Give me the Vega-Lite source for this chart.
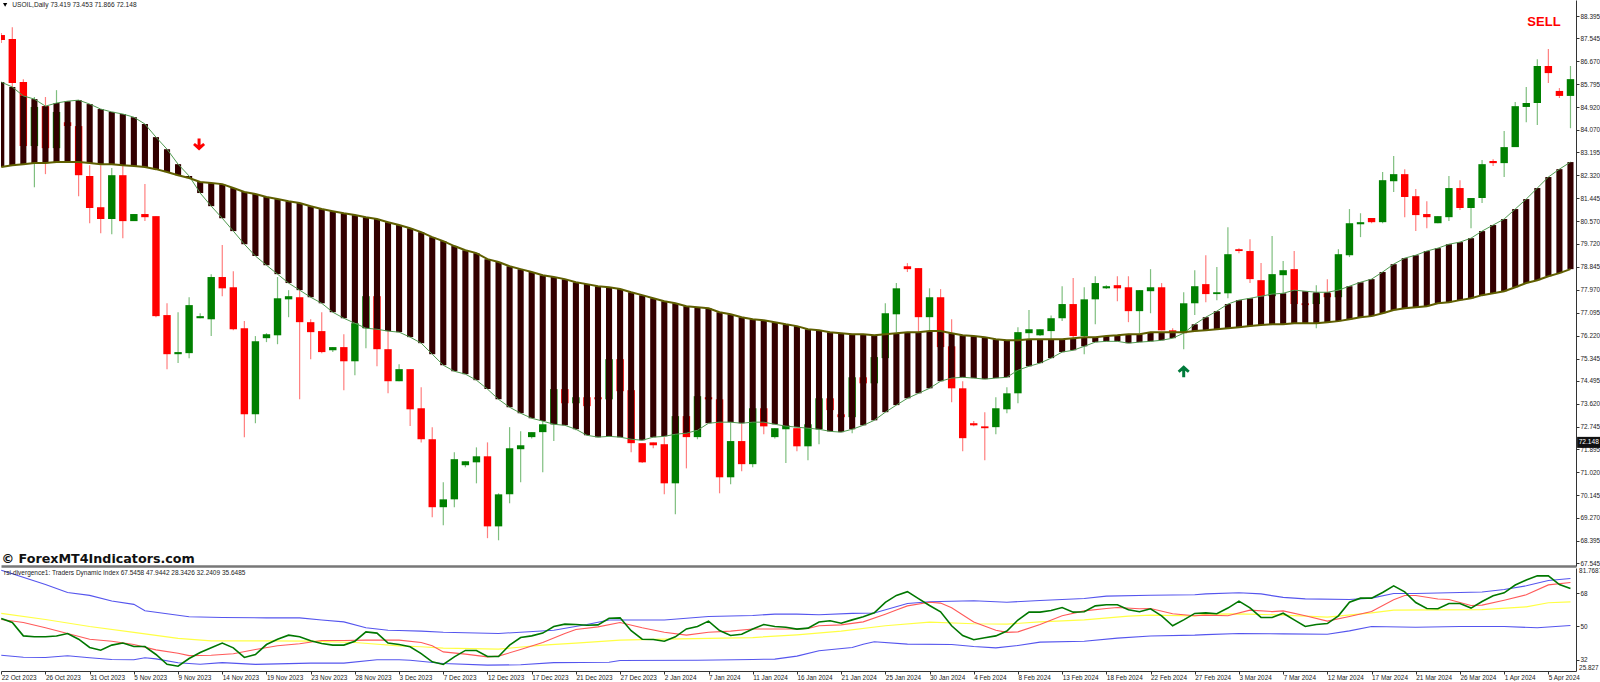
{"$schema":"https://vega.github.io/schema/vega-lite/v6.json","padding":0,"autosize":{"type":"pad"},"background":"white","spacing":1,"config":{"view":{"stroke":null},"axis":{"labelFont":"Liberation Sans","labelFontSize":6.4,"labelColor":"#222"},"text":{"font":"Liberation Sans"}},
"datasets":{
"bars":[
{"i":0,"t":"d","o":87.67,"h":87.75,"l":87.37,"c":87.48,"a":85.88,"b":82.64},
{"i":1,"t":"d","o":87.52,"h":87.97,"l":85.69,"c":85.84,"a":85.69,"b":82.71},
{"i":2,"t":"d","o":85.88,"h":85.99,"l":83.44,"c":83.44,"a":85.35,"b":82.75},
{"i":3,"t":"u","o":83.44,"h":85.31,"l":81.87,"c":84.93,"a":85.23,"b":82.79},
{"i":4,"t":"d","o":84.96,"h":85.31,"l":82.37,"c":83.36,"a":84.96,"b":82.79},
{"i":5,"t":"u","o":83.36,"h":85.57,"l":83.29,"c":84.74,"a":85.08,"b":82.83},
{"i":6,"t":"d","o":84.35,"h":84.43,"l":84.16,"c":84.2,"a":85.15,"b":82.83},
{"i":7,"t":"d","o":84.2,"h":84.24,"l":81.53,"c":82.33,"a":85.19,"b":82.83},
{"i":8,"t":"d","o":82.3,"h":82.71,"l":80.5,"c":81.08,"a":85.04,"b":82.79},
{"i":9,"t":"d","o":81.11,"h":82.71,"l":80.12,"c":80.66,"a":84.85,"b":82.75},
{"i":10,"t":"u","o":80.66,"h":82.6,"l":80.08,"c":82.33,"a":84.74,"b":82.75},
{"i":11,"t":"d","o":82.33,"h":82.68,"l":79.93,"c":80.58,"a":84.66,"b":82.71},
{"i":12,"t":"u","o":80.58,"h":80.85,"l":80.58,"c":80.85,"a":84.54,"b":82.68},
{"i":13,"t":"d","o":80.85,"h":81.99,"l":80.58,"c":80.73,"a":84.28,"b":82.64},
{"i":14,"t":"d","o":80.77,"h":80.77,"l":76.92,"c":76.96,"a":83.78,"b":82.56},
{"i":15,"t":"d","o":77,"h":77.45,"l":74.94,"c":75.51,"a":83.32,"b":82.45},
{"i":16,"t":"u","o":75.51,"h":77.11,"l":75.17,"c":75.59,"a":82.75,"b":82.33},
{"i":17,"t":"u","o":75.55,"h":77.68,"l":75.36,"c":77.38,"a":82.3,"b":82.22},
{"i":18,"t":"u","o":76.88,"h":77.07,"l":76.88,"c":76.96,"a":81.65,"b":82.07},
{"i":19,"t":"u","o":76.84,"h":78.56,"l":76.2,"c":78.45,"a":81.15,"b":82.03},
{"i":20,"t":"d","o":78.45,"h":79.67,"l":77.72,"c":78.02,"a":80.69,"b":81.99},
{"i":21,"t":"d","o":78.06,"h":78.67,"l":76.42,"c":76.46,"a":80.2,"b":81.84},
{"i":22,"t":"d","o":76.5,"h":76.77,"l":72.35,"c":73.22,"a":79.7,"b":81.69},
{"i":23,"t":"u","o":73.22,"h":76.2,"l":72.88,"c":76,"a":79.25,"b":81.61},
{"i":24,"t":"u","o":76.12,"h":76.31,"l":75.97,"c":76.27,"a":78.9,"b":81.5},
{"i":25,"t":"u","o":76.23,"h":78.45,"l":75.89,"c":77.64,"a":78.56,"b":81.42},
{"i":26,"t":"u","o":77.6,"h":77.95,"l":76.92,"c":77.72,"a":78.22,"b":81.34},
{"i":27,"t":"d","o":77.68,"h":77.95,"l":73.79,"c":76.73,"a":77.95,"b":81.27},
{"i":28,"t":"d","o":76.73,"h":76.84,"l":75.32,"c":76.35,"a":77.68,"b":81.15},
{"i":29,"t":"d","o":76.39,"h":77.11,"l":75.55,"c":75.59,"a":77.45,"b":81.04},
{"i":30,"t":"u","o":75.66,"h":75.78,"l":75.59,"c":75.78,"a":77.11,"b":80.96},
{"i":31,"t":"d","o":75.78,"h":76.27,"l":74.14,"c":75.24,"a":76.88,"b":80.88},
{"i":32,"t":"u","o":75.24,"h":76.8,"l":74.71,"c":76.69,"a":76.69,"b":80.81},
{"i":33,"t":"u","o":76.5,"h":77.72,"l":75.74,"c":77.72,"a":76.5,"b":80.73},
{"i":34,"t":"d","o":77.72,"h":77.72,"l":75.05,"c":75.7,"a":76.46,"b":80.66},
{"i":35,"t":"d","o":75.7,"h":76.42,"l":74.02,"c":74.48,"a":76.39,"b":80.54},
{"i":36,"t":"u","o":74.48,"h":75.13,"l":74.48,"c":74.94,"a":76.35,"b":80.43},
{"i":37,"t":"d","o":74.94,"h":74.94,"l":72.77,"c":73.41,"a":76.16,"b":80.31},
{"i":38,"t":"d","o":73.45,"h":74.25,"l":72.15,"c":72.27,"a":75.93,"b":80.16},
{"i":39,"t":"d","o":72.27,"h":72.73,"l":69.3,"c":69.68,"a":75.51,"b":79.97},
{"i":40,"t":"u","o":69.68,"h":70.63,"l":68.99,"c":69.98,"a":75.09,"b":79.82},
{"i":41,"t":"u","o":69.98,"h":71.77,"l":69.68,"c":71.51,"a":74.86,"b":79.63},
{"i":42,"t":"u","o":71.28,"h":71.43,"l":71.2,"c":71.43,"a":74.75,"b":79.47},
{"i":43,"t":"u","o":71.39,"h":71.96,"l":70.59,"c":71.62,"a":74.52,"b":79.36},
{"i":44,"t":"d","o":71.62,"h":72.15,"l":68.5,"c":68.95,"a":74.18,"b":79.13},
{"i":45,"t":"u","o":68.95,"h":70.21,"l":68.42,"c":70.17,"a":73.79,"b":79.02},
{"i":46,"t":"u","o":70.17,"h":72.73,"l":69.83,"c":71.93,"a":73.49,"b":78.86},
{"i":47,"t":"u","o":71.89,"h":72.57,"l":70.63,"c":72.04,"a":73.26,"b":78.75},
{"i":48,"t":"u","o":72.35,"h":72.54,"l":72.3,"c":72.54,"a":73.07,"b":78.64},
{"i":49,"t":"u","o":72.54,"h":72.99,"l":71.01,"c":72.84,"a":72.96,"b":78.52},
{"i":50,"t":"u","o":72.84,"h":74.18,"l":72.2,"c":74.18,"a":72.84,"b":78.45},
{"i":51,"t":"d","o":74.18,"h":74.18,"l":73.64,"c":73.64,"a":72.8,"b":78.37},
{"i":52,"t":"u","o":73.64,"h":73.87,"l":72.61,"c":73.87,"a":72.65,"b":78.25},
{"i":53,"t":"d","o":73.87,"h":73.87,"l":73.53,"c":73.53,"a":72.42,"b":78.18},
{"i":54,"t":"d","o":73.87,"h":73.87,"l":73.79,"c":73.79,"a":72.35,"b":78.1},
{"i":55,"t":"u","o":73.79,"h":75.32,"l":73.79,"c":75.32,"a":72.38,"b":78.06},
{"i":56,"t":"d","o":75.32,"h":75.32,"l":74.1,"c":74.1,"a":72.35,"b":77.99},
{"i":57,"t":"d","o":74.14,"h":74.14,"l":71.77,"c":72.12,"a":72.27,"b":77.87},
{"i":58,"t":"d","o":72.12,"h":72.12,"l":71.36,"c":71.39,"a":72.23,"b":77.76},
{"i":59,"t":"d","o":72.15,"h":72.15,"l":71.93,"c":72.04,"a":72.35,"b":77.64},
{"i":60,"t":"d","o":72.08,"h":72.35,"l":70.17,"c":70.59,"a":72.38,"b":77.53},
{"i":61,"t":"u","o":70.59,"h":73.15,"l":69.41,"c":73.15,"a":72.46,"b":77.45},
{"i":62,"t":"d","o":73.15,"h":73.15,"l":71.16,"c":72.35,"a":72.5,"b":77.34},
{"i":63,"t":"u","o":72.35,"h":73.91,"l":72.27,"c":73.91,"a":72.61,"b":77.3},
{"i":64,"t":"d","o":73.87,"h":73.87,"l":73.79,"c":73.79,"a":72.88,"b":77.26},
{"i":65,"t":"d","o":73.79,"h":73.79,"l":70.21,"c":70.82,"a":72.92,"b":77.11},
{"i":66,"t":"u","o":70.82,"h":72.92,"l":70.55,"c":72.2,"a":72.92,"b":77.03},
{"i":67,"t":"d","o":72.2,"h":72.88,"l":71.05,"c":71.32,"a":72.88,"b":76.92},
{"i":68,"t":"u","o":71.32,"h":73.45,"l":71.2,"c":73.45,"a":72.92,"b":76.84},
{"i":69,"t":"d","o":73.45,"h":73.45,"l":72.46,"c":72.76,"a":72.92,"b":76.8},
{"i":70,"t":"u","o":72.35,"h":72.69,"l":72.3,"c":72.69,"a":72.84,"b":76.73},
{"i":71,"t":"u","o":72.65,"h":72.8,"l":71.36,"c":72.8,"a":72.77,"b":76.65},
{"i":72,"t":"d","o":72.69,"h":72.69,"l":71.81,"c":72,"a":72.73,"b":76.58},
{"i":73,"t":"u","o":72,"h":72.84,"l":71.47,"c":72.84,"a":72.69,"b":76.46},
{"i":74,"t":"u","o":72.65,"h":73.83,"l":72.08,"c":73.83,"a":72.65,"b":76.42},
{"i":75,"t":"d","o":73.83,"h":73.83,"l":73.38,"c":73.38,"a":72.57,"b":76.35},
{"i":76,"t":"d","o":73.22,"h":73.22,"l":73.11,"c":73.11,"a":72.54,"b":76.31},
{"i":77,"t":"u","o":73.11,"h":74.63,"l":72.5,"c":74.63,"a":72.65,"b":76.27},
{"i":78,"t":"d","o":74.63,"h":74.63,"l":74.4,"c":74.4,"a":72.8,"b":76.27},
{"i":79,"t":"u","o":74.4,"h":75.4,"l":74.4,"c":75.4,"a":72.99,"b":76.23},
{"i":80,"t":"u","o":75.36,"h":77.45,"l":75.36,"c":77.07,"a":73.3,"b":76.27},
{"i":81,"t":"u","o":77.03,"h":78.22,"l":76.35,"c":78.02,"a":73.57,"b":76.31},
{"i":82,"t":"d","o":78.86,"h":78.98,"l":78.64,"c":78.75,"a":73.83,"b":76.35},
{"i":83,"t":"d","o":78.79,"h":78.79,"l":76.35,"c":76.92,"a":74.02,"b":76.35},
{"i":84,"t":"u","o":76.92,"h":78.02,"l":76.31,"c":77.68,"a":74.21,"b":76.39},
{"i":85,"t":"d","o":77.68,"h":77.99,"l":75.78,"c":75.78,"a":74.48,"b":76.39},
{"i":86,"t":"d","o":75.81,"h":76.84,"l":73.68,"c":74.21,"a":74.6,"b":76.31},
{"i":87,"t":"d","o":74.21,"h":74.48,"l":71.81,"c":72.31,"a":74.63,"b":76.23},
{"i":88,"t":"d","o":72.88,"h":72.96,"l":72.76,"c":72.8,"a":74.6,"b":76.2},
{"i":89,"t":"d","o":72.76,"h":73.3,"l":71.47,"c":72.69,"a":74.56,"b":76.16},
{"i":90,"t":"u","o":72.73,"h":73.87,"l":72.46,"c":73.45,"a":74.6,"b":76.08},
{"i":91,"t":"u","o":73.41,"h":74.25,"l":73.26,"c":74.02,"a":74.63,"b":76.04},
{"i":92,"t":"u","o":74.02,"h":76.54,"l":73.64,"c":76.35,"a":74.9,"b":76.04},
{"i":93,"t":"u","o":76.31,"h":77.19,"l":76.12,"c":76.46,"a":75.05,"b":76.08},
{"i":94,"t":"u","o":76.23,"h":76.46,"l":76.2,"c":76.46,"a":75.17,"b":76.08},
{"i":95,"t":"u","o":76.39,"h":76.98,"l":76.04,"c":76.88,"a":75.36,"b":76.08},
{"i":96,"t":"u","o":76.88,"h":78.1,"l":76.77,"c":77.42,"a":75.59,"b":76.08},
{"i":97,"t":"d","o":77.42,"h":78.41,"l":76.04,"c":76.2,"a":75.66,"b":76.12},
{"i":98,"t":"u","o":76.2,"h":78.06,"l":75.51,"c":77.6,"a":75.81,"b":76.16},
{"i":99,"t":"u","o":77.6,"h":78.48,"l":76.65,"c":78.22,"a":75.97,"b":76.16},
{"i":100,"t":"u","o":78.02,"h":78.14,"l":77.99,"c":78.1,"a":76,"b":76.2},
{"i":101,"t":"d","o":78.14,"h":78.48,"l":77.53,"c":78.02,"a":76,"b":76.23},
{"i":102,"t":"d","o":78.06,"h":78.48,"l":76.73,"c":77.15,"a":75.93,"b":76.27},
{"i":103,"t":"u","o":77.15,"h":77.95,"l":76.31,"c":77.95,"a":75.97,"b":76.27},
{"i":104,"t":"u","o":77.91,"h":78.75,"l":77.07,"c":78.06,"a":76,"b":76.35},
{"i":105,"t":"d","o":78.06,"h":78.22,"l":76.42,"c":76.42,"a":76.04,"b":76.35},
{"i":106,"t":"d","o":76.42,"h":76.5,"l":76.35,"c":76.35,"a":76.12,"b":76.35},
{"i":107,"t":"u","o":76.35,"h":77.87,"l":75.7,"c":77.45,"a":76.31,"b":76.35},
{"i":108,"t":"u","o":77.45,"h":78.71,"l":77,"c":78.1,"a":76.65,"b":76.39},
{"i":109,"t":"d","o":78.18,"h":79.28,"l":77.49,"c":77.8,"a":76.92,"b":76.42},
{"i":110,"t":"u","o":77.8,"h":78.83,"l":77.57,"c":77.87,"a":77.15,"b":76.46},
{"i":111,"t":"u","o":77.83,"h":80.35,"l":77.64,"c":79.32,"a":77.42,"b":76.5},
{"i":112,"t":"d","o":79.51,"h":79.55,"l":79.36,"c":79.44,"a":77.57,"b":76.54},
{"i":113,"t":"d","o":79.44,"h":79.89,"l":78.22,"c":78.37,"a":77.64,"b":76.58},
{"i":114,"t":"d","o":78.33,"h":78.98,"l":77.72,"c":77.72,"a":77.72,"b":76.62},
{"i":115,"t":"u","o":77.72,"h":80.01,"l":77.72,"c":78.56,"a":77.8,"b":76.65},
{"i":116,"t":"u","o":78.52,"h":79.06,"l":77.83,"c":78.71,"a":77.83,"b":76.65},
{"i":117,"t":"d","o":78.75,"h":79.44,"l":77.42,"c":77.42,"a":77.95,"b":76.69},
{"i":118,"t":"d","o":77.45,"h":77.45,"l":77.38,"c":77.38,"a":77.91,"b":76.69},
{"i":119,"t":"u","o":77.42,"h":78.14,"l":76.5,"c":77.83,"a":77.87,"b":76.69},
{"i":120,"t":"d","o":77.83,"h":78.37,"l":77.68,"c":77.68,"a":77.87,"b":76.73},
{"i":121,"t":"u","o":77.68,"h":79.51,"l":77.68,"c":79.32,"a":77.95,"b":76.77},
{"i":122,"t":"u","o":79.28,"h":81.04,"l":79.21,"c":80.5,"a":78.1,"b":76.84},
{"i":123,"t":"u","o":80.46,"h":80.88,"l":79.97,"c":80.54,"a":78.25,"b":76.92},
{"i":124,"t":"d","o":80.7,"h":80.7,"l":80.5,"c":80.54,"a":78.37,"b":76.96},
{"i":125,"t":"u","o":80.54,"h":82.45,"l":80.5,"c":82.14,"a":78.64,"b":77.07},
{"i":126,"t":"u","o":82.1,"h":83.06,"l":81.69,"c":82.37,"a":78.94,"b":77.19},
{"i":127,"t":"d","o":82.37,"h":82.56,"l":80.73,"c":81.5,"a":79.17,"b":77.26},
{"i":128,"t":"d","o":81.53,"h":81.8,"l":80.2,"c":80.81,"a":79.28,"b":77.3},
{"i":129,"t":"d","o":80.85,"h":81.34,"l":80.31,"c":80.73,"a":79.44,"b":77.34},
{"i":130,"t":"u","o":80.5,"h":80.77,"l":80.5,"c":80.77,"a":79.55,"b":77.45},
{"i":131,"t":"u","o":80.73,"h":82.3,"l":80.58,"c":81.84,"a":79.7,"b":77.49},
{"i":132,"t":"d","o":81.84,"h":82.14,"l":81,"c":81.08,"a":79.78,"b":77.57},
{"i":133,"t":"u","o":81.08,"h":81.46,"l":80.31,"c":81.46,"a":79.93,"b":77.64},
{"i":134,"t":"u","o":81.46,"h":82.91,"l":81.27,"c":82.75,"a":80.2,"b":77.76},
{"i":135,"t":"d","o":82.87,"h":82.94,"l":82.68,"c":82.79,"a":80.43,"b":77.83},
{"i":136,"t":"u","o":82.79,"h":84.01,"l":82.26,"c":83.4,"a":80.66,"b":77.91},
{"i":137,"t":"u","o":83.4,"h":85.12,"l":83.4,"c":84.96,"a":81.04,"b":78.06},
{"i":138,"t":"u","o":84.93,"h":85.69,"l":84.35,"c":85.08,"a":81.42,"b":78.22},
{"i":139,"t":"u","o":85.08,"h":86.75,"l":84.24,"c":86.49,"a":81.84,"b":78.33},
{"i":140,"t":"d","o":86.49,"h":87.14,"l":85.84,"c":86.22,"a":82.26,"b":78.48},
{"i":141,"t":"d","o":85.54,"h":85.65,"l":85.27,"c":85.35,"a":82.56,"b":78.6},
{"i":142,"t":"u","o":85.35,"h":86.49,"l":84.12,"c":85.99,"a":82.83,"b":78.75}
]
},
"vconcat":[
{"width":1575,"height":566,
"encoding":{"x":{"field":"i","type":"quantitative","title":null,"scale":{"domain":[-0.023,142.5],"nice":false,"zero":false,"padding":0},"axis":{"labels":false,"ticks":false,"grid":false,"domain":true,"domainColor":"#777777","domainWidth":2.5,"title":null}}},
"layer":[
{"data":{"values":[{"p":72.148}]},"mark":{"type":"rule","color":"#c8c8c8","strokeWidth":1},"encoding":{"y":{"field":"p","type":"quantitative","title":null,"scale":{"domain":[67.44,89.005],"nice":false,"zero":false},"axis":{"orient":"right","tickCount":30,"values":[88.395,87.545,86.67,85.795,84.92,84.07,83.195,82.32,81.445,80.57,79.72,78.845,77.97,77.095,76.22,75.345,74.495,73.62,72.745,71.895,71.02,70.145,69.27,68.395,67.545],"format":".3f","grid":false,"labelOverlap":false,"labelFlush":false,"tickSize":3,"tickColor":"#333","labelPadding":1,"domainColor":"#333","domainWidth":1,"title":null}}}},
{"data":{"name":"bars"},"mark":{"type":"rule","strokeWidth":1.2,"opacity":0.5,"clip":true},"encoding":{"y":{"field":"h","type":"quantitative"},"y2":{"field":"l"},"color":{"field":"t","type":"nominal","scale":{"domain":["u","d"],"range":["#008000","#ff0000"]},"legend":null}}},
{"data":{"name":"bars"},"mark":{"type":"bar","width":7.4,"orient":"vertical","clip":true},"encoding":{"y":{"field":"o","type":"quantitative"},"y2":{"field":"c"},"color":{"field":"t","type":"nominal","legend":null}}},
{"data":{"name":"bars"},"mark":{"type":"bar","width":6.1,"orient":"vertical","color":"#330000","clip":true},"encoding":{"y":{"field":"a","type":"quantitative"},"y2":{"field":"b"}}},
{"data":{"name":"bars"},"mark":{"type":"line","color":"#4f9a4f","strokeWidth":1,"clip":true},"encoding":{"y":{"field":"a","type":"quantitative"}}},
{"data":{"name":"bars"},"mark":{"type":"line","color":"#5f5f00","strokeWidth":2,"clip":true},"encoding":{"y":{"field":"b","type":"quantitative"}}},
{"data":{"values":[{"i":17.9,"p":83.5}]},"mark":{"type":"point","filled":true,"opacity":1,"color":"#ff0000","size":144,"shape":"M-0.25,-1H0.25V0.1L0.7,-0.25L1,0.1L0,1L-1,0.1L-0.7,-0.25L-0.25,0.1Z"},"encoding":{"y":{"field":"p","type":"quantitative"}}},
{"data":{"values":[{"i":107,"p":74.86}]},"mark":{"type":"point","filled":true,"opacity":1,"color":"#007a3a","size":144,"shape":"M-0.25,1H0.25V-0.1L0.7,0.25L1,-0.1L0,-1L-1,-0.1L-0.7,0.25L-0.25,-0.1Z"},"encoding":{"y":{"field":"p","type":"quantitative"}}},
{"data":{"values":[{"i":139.6,"p":88.167,"s":"SELL"}]},"mark":{"type":"text","color":"#ff0000","fontSize":13,"fontWeight":"bold","align":"center","baseline":"middle"},"encoding":{"y":{"field":"p","type":"quantitative"},"text":{"field":"s"}}},
{"data":{"values":[{"i":1,"p":88.82,"s":"USOIL,Daily  73.419 73.453 71.866 72.148"}]},"mark":{"type":"text","color":"#222","fontSize":6.6,"align":"left","baseline":"middle"},"encoding":{"y":{"field":"p","type":"quantitative"},"text":{"field":"s"}}},
{"data":{"values":[{"i":0.35,"p":88.82}]},"mark":{"type":"point","filled":true,"opacity":1,"color":"#000","size":18,"shape":"triangle-down"},"encoding":{"y":{"field":"p","type":"quantitative"}}},
{"data":{"values":[{"i":0.02,"p":67.7,"s":"© ForexMT4Indicators.com"}]},"mark":{"type":"text","color":"#111","font":"DejaVu Sans","fontSize":12.7,"fontWeight":"bold","align":"left","baseline":"middle"},"encoding":{"y":{"field":"p","type":"quantitative"},"text":{"field":"s"}}},
{"data":{"values":[{"i":142.6,"i2":144.7,"p":72.36,"p2":71.94}]},"mark":{"type":"rect","color":"#111"},"encoding":{"x2":{"field":"i2"},"y":{"field":"p","type":"quantitative"},"y2":{"field":"p2"}}},
{"data":{"values":[{"i":143.65,"p":72.148,"s":"72.148"}]},"mark":{"type":"text","color":"#fff","fontSize":6.6,"align":"center","baseline":"middle"},"encoding":{"y":{"field":"p","type":"quantitative"},"text":{"field":"s"}}}
]},
{"width":1575,"height":103,
"encoding":{"x":{"field":"i","type":"quantitative","title":null,"scale":{"domain":[-0.023,142.5],"nice":false,"zero":false,"padding":0},"axis":{"tickCount":40,"values":[0,4,8,12,16,20,24,28,32,36,40,44,48,52,56,60,64,68,72,76,80,84,88,92,96,100,104,108,112,116,120,124,128,132,136,140],"labelExpr":"['22 Oct 2023','26 Oct 2023','31 Oct 2023','5 Nov 2023','9 Nov 2023','14 Nov 2023','19 Nov 2023','23 Nov 2023','28 Nov 2023','3 Dec 2023','7 Dec 2023','12 Dec 2023','17 Dec 2023','21 Dec 2023','27 Dec 2023','2 Jan 2024','7 Jan 2024','11 Jan 2024','16 Jan 2024','21 Jan 2024','25 Jan 2024','30 Jan 2024','4 Feb 2024','8 Feb 2024','13 Feb 2024','18 Feb 2024','22 Feb 2024','27 Feb 2024','3 Mar 2024','7 Mar 2024','12 Mar 2024','17 Mar 2024','21 Mar 2024','26 Mar 2024','1 Apr 2024','5 Apr 2024'][datum.value/4]","labelAlign":"left","labelBaseline":"middle","labelPadding":3,"labelFlush":false,"labelOverlap":false,"labelBound":false,"tickSize":3,"tickColor":"#333","domainColor":"#333","domainWidth":1,"grid":false,"title":null}}},
"layer":[
{"data":{"values":[{"v":68},{"v":50},{"v":32}]},"mark":{"type":"rule","color":"#666","strokeWidth":0.9,"strokeDash":[2,2]},"encoding":{"y":{"field":"v","type":"quantitative","title":null,"scale":{"domain":[25.827,81.7687],"nice":false,"zero":false},"axis":{"orient":"right","values":[68,50,32],"format":"d","grid":false,"labelOverlap":false,"labelFlush":false,"tickSize":3,"tickColor":"#333","labelPadding":1,"domainColor":"#333","domainWidth":1,"title":null}}}},
{"data":{"values":[{"i":0,"v":80.6},{"i":1,"v":78.6},{"i":4,"v":72.8},{"i":6,"v":68.5},{"i":8,"v":66.9},{"i":10,"v":63.8},{"i":12,"v":62.0},{"i":13,"v":58.5},{"i":15,"v":56.9},{"i":17,"v":55.3},{"i":20,"v":54.9},{"i":24,"v":54.7},{"i":27,"v":54.7},{"i":29,"v":53.5},{"i":31,"v":52.5},{"i":33,"v":49.3},{"i":35,"v":48.0},{"i":36,"v":47.8},{"i":38,"v":47.5},{"i":40,"v":46.9},{"i":45,"v":46.2},{"i":47,"v":46.9},{"i":50,"v":48.0},{"i":53,"v":51.1},{"i":55,"v":53.5},{"i":58,"v":53.5},{"i":60,"v":53.5},{"i":64,"v":55.4},{"i":68,"v":56.0},{"i":70,"v":56.7},{"i":72,"v":56.7},{"i":74,"v":56.4},{"i":77,"v":57.1},{"i":79,"v":57.3},{"i":82,"v":62.5},{"i":84,"v":63.4},{"i":88,"v":64.0},{"i":91,"v":63.2},{"i":94,"v":64.1},{"i":98,"v":65.2},{"i":100,"v":66.5},{"i":104,"v":67.0},{"i":108,"v":67.2},{"i":109,"v":67.7},{"i":112,"v":68.3},{"i":114,"v":67.7},{"i":116,"v":65.8},{"i":118,"v":65.0},{"i":122,"v":64.7},{"i":124,"v":65.4},{"i":126,"v":67.9},{"i":128,"v":67.9},{"i":134,"v":68.7},{"i":136,"v":70.1},{"i":138,"v":72.1},{"i":140,"v":75.0},{"i":142,"v":76.1}]},"mark":{"type":"line","color":"#5555ee","strokeWidth":1.1,"clip":true},"encoding":{"y":{"field":"v","type":"quantitative"}}},
{"data":{"values":[{"i":0,"v":34.4},{"i":2,"v":33.3},{"i":4,"v":33.2},{"i":6,"v":34.1},{"i":8,"v":33.0},{"i":10,"v":32.1},{"i":12,"v":31.9},{"i":13,"v":33.0},{"i":14,"v":32.4},{"i":16,"v":30.3},{"i":18,"v":29.5},{"i":20,"v":30.4},{"i":23,"v":29.4},{"i":28,"v":30.1},{"i":31,"v":30.1},{"i":34,"v":31.9},{"i":36,"v":31.9},{"i":37,"v":31.7},{"i":40,"v":29.9},{"i":44,"v":29.0},{"i":47,"v":29.2},{"i":50,"v":30.4},{"i":55,"v":30.6},{"i":56,"v":31.5},{"i":63,"v":31.7},{"i":68,"v":32.1},{"i":70,"v":32.3},{"i":72,"v":33.9},{"i":74,"v":36.8},{"i":77,"v":38.6},{"i":78,"v":40.4},{"i":79,"v":41.7},{"i":82,"v":40.4},{"i":86,"v":40.2},{"i":88,"v":39.1},{"i":90,"v":38.4},{"i":92,"v":39.7},{"i":94,"v":41.5},{"i":98,"v":42.0},{"i":101,"v":43.7},{"i":104,"v":44.8},{"i":108,"v":45.3},{"i":109,"v":45.6},{"i":112,"v":46.2},{"i":116,"v":46.0},{"i":120,"v":45.8},{"i":122,"v":47.6},{"i":124,"v":50.0},{"i":128,"v":49.6},{"i":132,"v":50.0},{"i":136,"v":50.0},{"i":139,"v":49.3},{"i":142,"v":50.5}]},"mark":{"type":"line","color":"#5555ee","strokeWidth":1.1,"clip":true},"encoding":{"y":{"field":"v","type":"quantitative"}}},
{"data":{"values":[{"i":0,"v":57.1},{"i":4,"v":53.8},{"i":8,"v":50.0},{"i":12,"v":46.8},{"i":16,"v":43.5},{"i":19,"v":42.2},{"i":24,"v":42.2},{"i":28,"v":42.0},{"i":32,"v":41.3},{"i":36,"v":39.5},{"i":38,"v":39.0},{"i":40,"v":38.2},{"i":45,"v":37.7},{"i":49,"v":39.9},{"i":52,"v":41.0},{"i":56,"v":42.6},{"i":60,"v":43.1},{"i":64,"v":43.5},{"i":68,"v":44.0},{"i":72,"v":45.5},{"i":76,"v":47.5},{"i":80,"v":50.4},{"i":84,"v":52.4},{"i":88,"v":51.5},{"i":91,"v":51.3},{"i":94,"v":52.5},{"i":98,"v":53.6},{"i":102,"v":55.6},{"i":104,"v":56.2},{"i":108,"v":55.8},{"i":109,"v":56.7},{"i":112,"v":56.9},{"i":116,"v":56.2},{"i":120,"v":55.1},{"i":124,"v":57.4},{"i":126,"v":58.9},{"i":130,"v":59.0},{"i":134,"v":59.2},{"i":138,"v":60.7},{"i":140,"v":62.9},{"i":142,"v":63.4}]},"mark":{"type":"line","color":"#ffff44","strokeWidth":1.2,"clip":true},"encoding":{"y":{"field":"v","type":"quantitative"}}},
{"data":{"values":[{"i":0,"v":53.8},{"i":2,"v":52.2},{"i":4,"v":49.3},{"i":6,"v":46.2},{"i":8,"v":43.1},{"i":10,"v":42.0},{"i":12,"v":40.2},{"i":14,"v":37.3},{"i":16,"v":35.5},{"i":17,"v":34.2},{"i":19,"v":34.4},{"i":21,"v":35.2},{"i":23,"v":37.5},{"i":25,"v":39.5},{"i":27,"v":40.6},{"i":29,"v":42.4},{"i":31,"v":42.4},{"i":33,"v":42.6},{"i":36,"v":42.6},{"i":38,"v":41.3},{"i":39,"v":39.5},{"i":40,"v":36.2},{"i":42,"v":35.0},{"i":44,"v":33.5},{"i":45,"v":33.9},{"i":47,"v":37.5},{"i":49,"v":41.3},{"i":51,"v":46.2},{"i":52,"v":48.4},{"i":54,"v":49.8},{"i":56,"v":52.2},{"i":58,"v":49.3},{"i":60,"v":46.9},{"i":62,"v":45.3},{"i":64,"v":46.9},{"i":66,"v":47.5},{"i":68,"v":48.6},{"i":70,"v":48.6},{"i":72,"v":48.6},{"i":73,"v":48.9},{"i":74,"v":50.4},{"i":76,"v":50.9},{"i":78,"v":52.5},{"i":80,"v":56.7},{"i":81,"v":58.9},{"i":82,"v":61.2},{"i":84,"v":63.2},{"i":85,"v":62.7},{"i":86,"v":60.2},{"i":88,"v":52.5},{"i":90,"v":48.0},{"i":91,"v":46.8},{"i":92,"v":47.1},{"i":94,"v":51.1},{"i":96,"v":55.8},{"i":98,"v":58.5},{"i":100,"v":59.8},{"i":101,"v":60.3},{"i":103,"v":59.6},{"i":104,"v":59.8},{"i":106,"v":56.9},{"i":108,"v":55.8},{"i":109,"v":56.2},{"i":111,"v":55.8},{"i":113,"v":58.9},{"i":115,"v":58.1},{"i":116,"v":58.5},{"i":118,"v":55.8},{"i":120,"v":52.9},{"i":122,"v":55.4},{"i":124,"v":58.1},{"i":126,"v":64.5},{"i":127,"v":66.8},{"i":128,"v":66.8},{"i":130,"v":64.9},{"i":131,"v":64.7},{"i":133,"v":61.4},{"i":134,"v":61.6},{"i":136,"v":64.3},{"i":138,"v":67.2},{"i":140,"v":72.6},{"i":142,"v":73.9}]},"mark":{"type":"line","color":"#ff5a5a","strokeWidth":1.1,"clip":true},"encoding":{"y":{"field":"v","type":"quantitative"}}},
{"data":{"values":[{"i":0,"v":54.4},{"i":1,"v":52.2},{"i":2,"v":44.9},{"i":3,"v":44.4},{"i":4,"v":44.4},{"i":5,"v":44.8},{"i":6,"v":46.2},{"i":7,"v":43.1},{"i":8,"v":38.6},{"i":9,"v":37.1},{"i":10,"v":39.9},{"i":11,"v":41.0},{"i":12,"v":39.1},{"i":13,"v":39.1},{"i":14,"v":34.8},{"i":15,"v":29.5},{"i":16,"v":28.4},{"i":17,"v":32.6},{"i":18,"v":35.9},{"i":19,"v":38.4},{"i":20,"v":41.0},{"i":21,"v":38.4},{"i":22,"v":33.2},{"i":23,"v":34.8},{"i":24,"v":40.2},{"i":25,"v":43.1},{"i":26,"v":45.3},{"i":27,"v":44.4},{"i":28,"v":42.2},{"i":29,"v":40.8},{"i":30,"v":39.9},{"i":31,"v":39.9},{"i":32,"v":42.0},{"i":33,"v":47.1},{"i":34,"v":46.4},{"i":35,"v":41.0},{"i":36,"v":40.2},{"i":37,"v":39.0},{"i":38,"v":35.3},{"i":39,"v":30.8},{"i":40,"v":29.4},{"i":41,"v":33.5},{"i":42,"v":37.0},{"i":43,"v":37.0},{"i":44,"v":33.7},{"i":45,"v":33.7},{"i":46,"v":39.9},{"i":47,"v":44.0},{"i":48,"v":44.9},{"i":49,"v":46.4},{"i":50,"v":50.0},{"i":51,"v":51.3},{"i":52,"v":51.1},{"i":53,"v":50.7},{"i":54,"v":50.9},{"i":55,"v":54.5},{"i":56,"v":54.7},{"i":57,"v":47.7},{"i":58,"v":43.1},{"i":59,"v":42.9},{"i":60,"v":42.0},{"i":61,"v":44.4},{"i":62,"v":48.7},{"i":63,"v":50.0},{"i":64,"v":52.9},{"i":65,"v":47.8},{"i":66,"v":45.1},{"i":67,"v":45.8},{"i":68,"v":48.6},{"i":69,"v":51.1},{"i":70,"v":50.0},{"i":71,"v":49.6},{"i":72,"v":48.6},{"i":73,"v":49.1},{"i":74,"v":52.4},{"i":75,"v":53.1},{"i":76,"v":51.8},{"i":77,"v":53.6},{"i":78,"v":55.3},{"i":79,"v":57.4},{"i":80,"v":63.1},{"i":81,"v":66.9},{"i":82,"v":68.9},{"i":83,"v":65.1},{"i":84,"v":61.4},{"i":85,"v":58.0},{"i":86,"v":50.4},{"i":87,"v":45.1},{"i":88,"v":42.8},{"i":89,"v":43.9},{"i":90,"v":44.9},{"i":91,"v":47.5},{"i":92,"v":53.5},{"i":93,"v":57.8},{"i":94,"v":57.8},{"i":95,"v":58.7},{"i":96,"v":60.3},{"i":97,"v":57.8},{"i":98,"v":58.0},{"i":99,"v":61.2},{"i":100,"v":61.8},{"i":101,"v":61.8},{"i":102,"v":59.1},{"i":103,"v":58.0},{"i":104,"v":59.6},{"i":105,"v":55.8},{"i":106,"v":50.4},{"i":107,"v":53.6},{"i":108,"v":57.1},{"i":109,"v":57.4},{"i":110,"v":56.9},{"i":111,"v":60.0},{"i":112,"v":63.8},{"i":113,"v":60.1},{"i":114,"v":54.9},{"i":115,"v":54.9},{"i":116,"v":57.2},{"i":117,"v":53.6},{"i":118,"v":50.0},{"i":119,"v":51.1},{"i":120,"v":51.6},{"i":121,"v":55.8},{"i":122,"v":63.2},{"i":123,"v":65.4},{"i":124,"v":65.4},{"i":125,"v":68.5},{"i":126,"v":72.1},{"i":127,"v":68.8},{"i":128,"v":63.0},{"i":129,"v":59.8},{"i":130,"v":59.6},{"i":131,"v":62.5},{"i":132,"v":62.5},{"i":133,"v":60.0},{"i":134,"v":63.6},{"i":135,"v":66.7},{"i":136,"v":68.3},{"i":137,"v":72.5},{"i":138,"v":75.2},{"i":139,"v":77.5},{"i":140,"v":77.5},{"i":141,"v":72.8},{"i":142,"v":70.6}]},"mark":{"type":"line","color":"#007700","strokeWidth":1.6,"clip":true},"encoding":{"y":{"field":"v","type":"quantitative"}}},
{"data":{"values":[{"i":0.25,"v":79.16,"s":"rsi-divergence1: Traders Dynamic Index 67.5458 47.9442 28.3426 32.2409 35.6485"}]},"mark":{"type":"text","color":"#222","fontSize":6.5,"align":"left","baseline":"middle"},"encoding":{"y":{"field":"v","type":"quantitative"},"text":{"field":"s"}}},
{"data":{"values":[{"i":142.78,"v":81.7687,"s":"81.7687"}]},"mark":{"type":"text","color":"#222","fontSize":6.4,"align":"left","baseline":"top"},"encoding":{"y":{"field":"v","type":"quantitative"},"text":{"field":"s"}}},
{"data":{"values":[{"i":142.78,"v":25.827,"s":"25.827"}]},"mark":{"type":"text","color":"#222","fontSize":6.4,"align":"left","baseline":"bottom"},"encoding":{"y":{"field":"v","type":"quantitative"},"text":{"field":"s"}}}
]}
]}
